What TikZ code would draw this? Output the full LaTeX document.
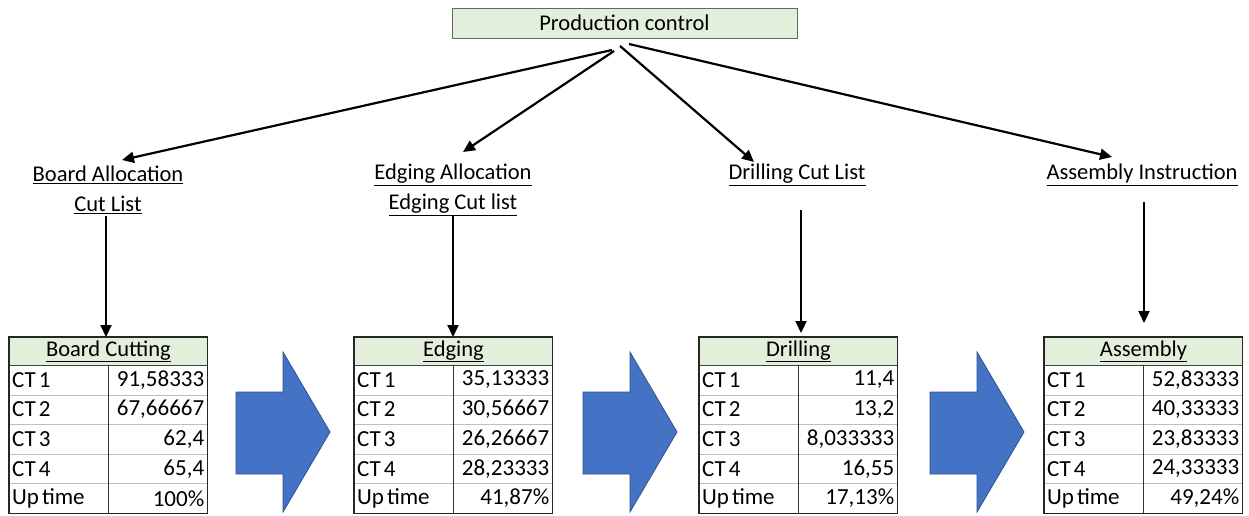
\documentclass[tikz,border=0pt]{standalone}
\usepackage{fontspec}
\setmainfont{Carlito}
\usetikzlibrary{arrows.meta,calc}
\definecolor{hdrgreen}{RGB}{226,239,218}
\definecolor{gridgray}{RGB}{190,190,190}
\definecolor{bluefill}{RGB}{68,114,196}
\definecolor{blueedge}{RGB}{47,82,143}
\newcommand\cellfont{\fontsize{23}{26}\selectfont}
\tikzset{
  txt/.style={font=\fontsize{22.5}{26}\selectfont, inner sep=0pt},
  hdr/.style={draw=black!75, fill=hdrgreen, line width=0.9pt, minimum width=198pt, minimum height=28pt, inner sep=0pt, anchor=north west, font=\fontsize{22.5}{26}\selectfont},
  cellL/.style={minimum width=99pt, minimum height=29.6pt, inner sep=3pt, anchor=north west, text width=93pt, align=left, font=\cellfont},
  cellR/.style={minimum width=99pt, minimum height=29.6pt, inner sep=3pt, anchor=north west, text width=93pt, align=right, font=\cellfont},
  conn/.style={line width=2.2pt, -{Triangle[width=11pt,length=12pt]}},
  bigarrow/.style={fill=bluefill, draw=blueedge, line width=0.8pt},
}
\newcommand\prow[5]{%
  % #1 name, #2 row index, #3 left x, #4 label, #5 value
  \node[cellL] (#1l#2) at (#3, {365+(#2-1)*29.6}) {\spaceskip=3pt\relax #4};
  \node[cellR] (#1r#2) at (#3+99, {365+(#2-1)*29.6}) {#5};
}
\newcommand\ptable[8]{%
  \node[hdr] (#1h) at (#2,337) {\underline{#3}};
  \prow{#1}{1}{#2}{CT 1}{#4}
  \prow{#1}{2}{#2}{CT 2}{#5}
  \prow{#1}{3}{#2}{CT 3}{#6}
  \prow{#1}{4}{#2}{CT 4}{#7}
  \prow{#1}{5}{#2}{Up time}{#8}
  \foreach \i in {1,2,3,4}{
    \draw[gridgray, line width=0.8pt] (#1l\i.south west) -- (#1r\i.south east);
  }
  \draw[black!80, line width=0.9pt] (#1r1.north west) -- (#1r5.south west);
  \draw[black!85, line width=1.1pt] (#1h.north west) rectangle (#1r5.south east);
}
\begin{document}
\begin{tikzpicture}[x=1pt,y=-1pt]
\useasboundingbox[fill=white] (0,0) rectangle (1249,516);

% top box
\node[draw=black!60, fill=hdrgreen, line width=0.9pt, minimum width=345pt, minimum height=30pt, inner sep=0pt, font=\fontsize{22.5}{26}\selectfont] (pc) at (624.5,23) {Production control};

% labels
\node[txt] (bal) at (108,175) {\underline{Board Allocation}};
\node[txt] (bcl) at (108,205) {\underline{Cut List}};
\node[txt] (eal) at (453,175) {\underline{Edging Allocation}};
\node[txt] (ecl) at (453,205) {\underline{Edging Cut list}};
\node[txt] (dcl) at (797,175) {\underline{Drilling Cut List}};
\node[txt] (ain) at (1142,175) {\underline{Assembly Instruction}};

% tables
\ptable{bc}{9}{Board Cutting}{91,58333}{67,66667}{62,4}{65,4}{100\%}
\ptable{ed}{354}{Edging}{35,13333}{30,56667}{26,26667}{28,23333}{41,87\%}
\ptable{dr}{699}{Drilling}{11,4}{13,2}{8,033333}{16,55}{17,13\%}
\ptable{as}{1044}{Assembly}{52,83333}{40,33333}{23,83333}{24,33333}{49,24\%}

% top connectors
\coordinate (s1) at (612,50);
\coordinate (s2) at (614,51);
\coordinate (s3) at (620,46);
\coordinate (s4) at (629,44);
\coordinate (t1) at (122,160);
\coordinate (t2) at (463,152);
\coordinate (t3) at (754,162);
\coordinate (t4) at (1112,157);
\draw[conn] (s1) -- (t1);
\draw[conn] (s2) -- (t2);
\draw[conn] (s3) -- (t3);
\draw[conn] (s4) -- (t4);

% vertical connectors
\coordinate (b0) at (106,216);
\coordinate (e0) at (453,216);
\coordinate (d0) at (801,210);
\coordinate (a0) at (1144,202);
\draw[conn] (b0) -- (bch.north -| b0);
\draw[conn] (e0) -- (edh.north -| e0);
\draw[conn] (d0) -- ($(drh.north -| d0)+(0,-4)$);
\draw[conn] (a0) -- ($(ash.north -| a0)+(0,-14)$);

% big blue arrows
\foreach \dx in {0,347,694}{
  \draw[bigarrow] (236+\dx,392) -- (283+\dx,392) -- (283+\dx,352) -- (330+\dx,432) -- (283+\dx,512) -- (283+\dx,474) -- (236+\dx,474) -- cycle;
}
\end{tikzpicture}
\end{document}
